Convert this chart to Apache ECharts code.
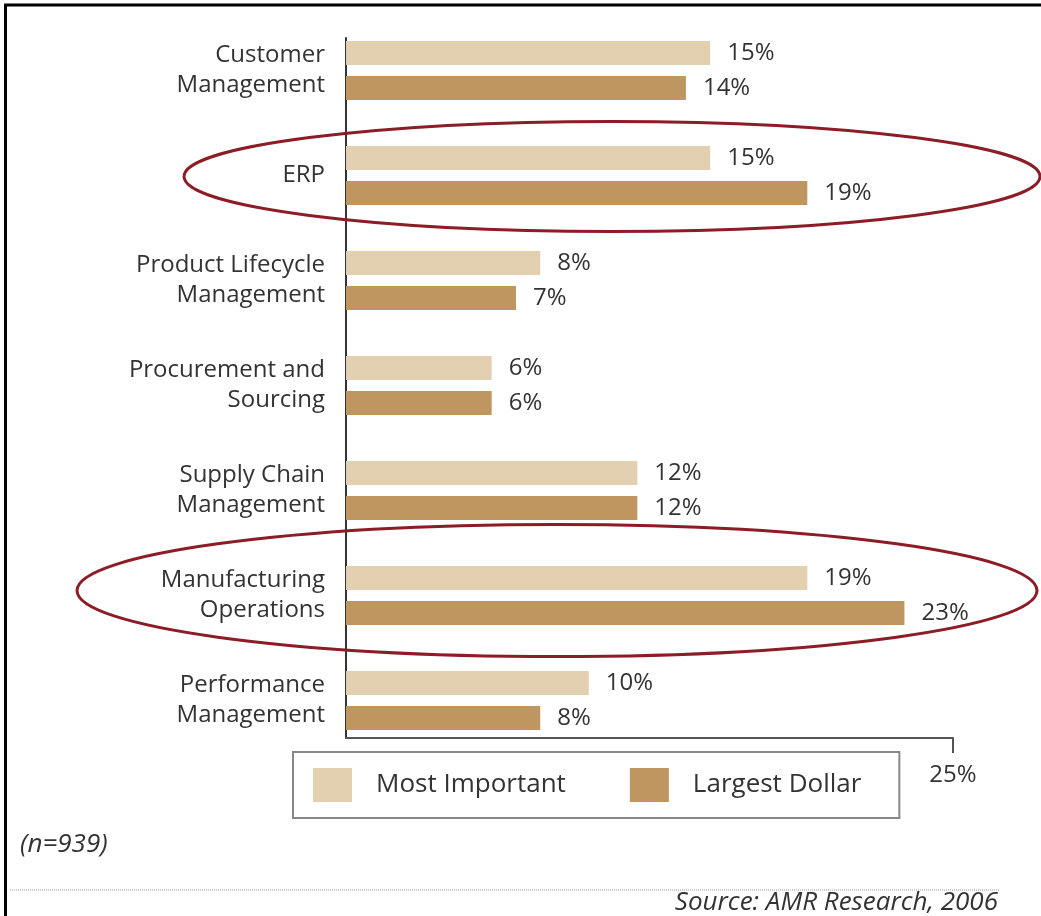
<!DOCTYPE html>
<html>
<head>
<meta charset="utf-8">
<script src="https://cdn.jsdelivr.net/npm/echarts@6/dist/echarts.min.js"></script>
<style>
html,body{margin:0;padding:0;background:#fff;}
#c{width:1041px;height:916px;}
</style>
</head>
<body>
<div id="c"></div>
<script>
const categories = ['Customer\nManagement', 'ERP', 'Product Lifecycle\nManagement', 'Procurement and\nSourcing', 'Supply Chain\nManagement', 'Manufacturing\nOperations', 'Performance\nManagement'];
const mostImportant = [15, 15, 8, 6, 12, 19, 10];
const largestDollar = [14, 19, 7, 6, 12, 23, 8];
const axisMax = 25;
const axisTickValues = [25];
const highlighted = ['ERP', 'Manufacturing\nOperations'];

const FONT = '"Open Sans", "Noto Sans", sans-serif';
const TXT = '#333';
const LIGHT = '#e3d0b0';
const DARK = '#c09660';

const chart = echarts.init(document.getElementById('c'), null, {renderer: 'canvas'});

const option = {
  backgroundColor: '#fff',
  animation: false,
  grid: [
    {left: 346, right: 88, top: 18, bottom: 163},
    {left: 346, right: 88, top: 38, bottom: 178}
  ],
  xAxis: [
    {gridIndex: 0, type: 'value', min: 0, max: axisMax, show: false},
    {gridIndex: 1, type: 'value', min: 0, max: axisMax, interval: 25,
     axisLine: {show: true, lineStyle: {color: '#555', width: 2}},
     axisTick: {show: true, customValues: axisTickValues, length: 15, lineStyle: {color: '#555', width: 2}},
     axisLabel: {show: true, customValues: axisTickValues, formatter: '{value}%', margin: 25,
       fontFamily: FONT, fontSize: 24, color: TXT},
     splitLine: {show: false}}
  ],
  yAxis: [
    {gridIndex: 0, type: 'category', data: categories, inverse: true,
     axisLine: {show: false}, axisTick: {show: false},
     axisLabel: {margin: 21, fontFamily: FONT, fontSize: 24, lineHeight: 30, color: TXT, align: 'right'}},
    {gridIndex: 1, type: 'value', min: 0, max: 1,
     axisLine: {show: true, lineStyle: {color: '#333', width: 2}},
     axisTick: {show: false}, axisLabel: {show: false}, splitLine: {show: false}}
  ],
  legend: {
    data: ['Most Important', 'Largest Dollar'],
    left: 293, top: 752,
    orient: 'horizontal',
    padding: [16, 38, 16, 20],
    itemWidth: 39, itemHeight: 34, itemGap: 64,
    icon: 'rect',
    borderColor: '#888', borderWidth: 2,
    textStyle: {fontFamily: FONT, fontSize: 26, color: TXT, padding: [0, 0, 0, 19]},
    selectedMode: false
  },
  series: [
    {name: 'Most Important', type: 'bar', xAxisIndex: 0, yAxisIndex: 0,
     data: mostImportant, barWidth: 24, barGap: '45%',
     itemStyle: {color: LIGHT},
     label: {show: true, position: 'right', distance: 17, formatter: '{c}%',
       fontFamily: FONT, fontSize: 24, color: TXT}},
    {name: 'Largest Dollar', type: 'bar', xAxisIndex: 0, yAxisIndex: 0,
     data: largestDollar, barWidth: 24, barGap: '45%',
     itemStyle: {color: DARK},
     label: {show: true, position: 'right', distance: 17, formatter: '{c}%',
       fontFamily: FONT, fontSize: 24, color: TXT}}
  ]
};
chart.setOption(option);

// annotations tied to category positions
const cyERP = chart.convertToPixel({yAxisIndex: 0}, highlighted[0]);
const cyMfg = chart.convertToPixel({yAxisIndex: 0}, highlighted[1]);

chart.setOption({
  graphic: [
    {type: 'line', shape: {x1: 4, y1: 5, x2: 1041, y2: 5}, style: {stroke: '#000', lineWidth: 3}, z: 100},
    {type: 'line', shape: {x1: 5.5, y1: 4, x2: 5.5, y2: 916}, style: {stroke: '#000', lineWidth: 3}, z: 100},
    {type: 'ellipse', shape: {cx: 612, cy: cyERP + 1, rx: 428, ry: 55},
     style: {fill: 'none', stroke: '#8c1c26', lineWidth: 3}, z: 50},
    {type: 'ellipse', shape: {cx: 557, cy: cyMfg - 5, rx: 480, ry: 66},
     style: {fill: 'none', stroke: '#8c1c26', lineWidth: 3}, z: 50},
    {type: 'text', left: 20, top: 832,
     style: {text: '(n=939)', fontFamily: FONT, fontStyle: 'italic', fontSize: 26, fill: TXT}},
    {type: 'line', shape: {x1: 10, y1: 890, x2: 1000, y2: 890},
     style: {stroke: '#999', lineWidth: 1, lineDash: [1, 1]}},
    {type: 'text', right: 43, top: 890,
     style: {text: 'Source: AMR Research, 2006', fontFamily: FONT, fontStyle: 'italic', fontSize: 26, fill: TXT}}
  ]
});
</script>
</body>
</html>
